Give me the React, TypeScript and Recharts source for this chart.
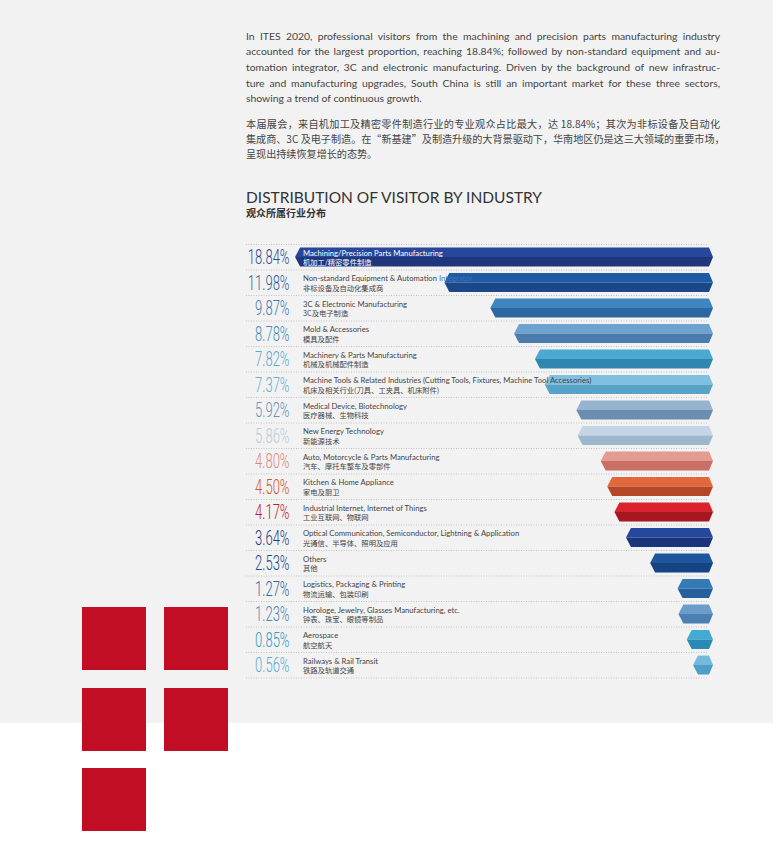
import React from "react";
import { BarChart, Bar, XAxis, YAxis, LabelList } from "recharts";

const values = [18.84, 11.98, 9.87, 8.78, 7.82, 7.37, 5.92, 5.86, 4.8, 4.5, 4.17, 3.64, 2.53, 1.27, 1.23, 0.85, 0.56];

const namesEn = [
  "Machining/Precision Parts Manufacturing",
  "Non-standard Equipment & Automation Integrator",
  "3C & Electronic Manufacturing",
  "Mold & Accessories",
  "Machinery & Parts Manufacturing",
  "Machine Tools & Related Industries (Cutting Tools, Fixtures, Machine Tool Accessories)",
  "Medical Device, Biotechnology",
  "New Energy Technology",
  "Auto, Motorcycle & Parts Manufacturing",
  "Kitchen & Home Appliance",
  "Industrial Internet, Internet of Things",
  "Optical Communication, Semiconductor, Lightning & Application",
  "Others",
  "Logistics, Packaging & Printing",
  "Horologe, Jewelry, Glasses Manufacturing, etc.",
  "Aerospace",
  "Railways & Rail Transit",
];

const namesZh = [
  "机加工/精密零件制造",
  "非标设备及自动化集成商",
  "3C及电子制造",
  "模具及配件",
  "机械及机械配件制造",
  "机床及相关行业(刀具、工夹具、机床附件)",
  "医疗器械、生物科技",
  "新能源技术",
  "汽车、摩托车整车及零部件",
  "家电及厨卫",
  "工业互联网、物联网",
  "光通信、半导体、照明及应用",
  "其他",
  "物流运输、包装印刷",
  "钟表、珠宝、眼镜等制品",
  "航空航天",
  "铁路及轨道交通",
];

const barTopColors = ["#29479a", "#1f5aa5", "#3f86c1", "#6ea3cf", "#4aaad2", "#7fbfe0", "#97b4cf", "#c4d6e6", "#e49b92", "#e2683c", "#d9242f", "#25479c", "#1f579f", "#3679b7", "#6b9dcc", "#43aad3", "#74b9dd"];
const barBottomColors = ["#1f367c", "#1b4688", "#2d67a2", "#4b7cad", "#2f87b0", "#57a2c8", "#6b8eb0", "#9db7cf", "#c96f65", "#b64726", "#a7171f", "#1b357c", "#164383", "#25609e", "#4c7fb2", "#2a8ab4", "#4f9ec9"];
const pctColors = ["#2b4a91", "#2c5ea3", "#3a7ab6", "#3f8fb5", "#55acd0", "#6aaed3", "#6a90b5", "#b9cadb", "#e0867b", "#d3552f", "#bf1e2d", "#1f3b86", "#234c8c", "#2f6aa8", "#4f86bc", "#2e9cc6", "#5cabd3"];

const paragraphEn = [
  "In ITES 2020, professional visitors from the machining and precision parts manufacturing industry",
  "accounted for the largest proportion, reaching 18.84%; followed by non-standard equipment and au-",
  "tomation integrator, 3C and electronic manufacturing. Driven by the background of new infrastruc-",
  "ture and manufacturing upgrades, South China is still an important market for these three sectors,",
  "showing a trend of continuous growth.",
];
const paragraphZh = [
  "本届展会，来自机加工及精密零件制造行业的专业观众占比最大，达 18.84%；其次为非标设备及自动化",
  "集成商、3C 及电子制造。在“新基建”及制造升级的大背景驱动下，华南地区仍是这三大领域的重要市场，",
  "呈现出持续恢复增长的态势。",
];
const titleEn = "DISTRIBUTION OF VISITOR BY INDUSTRY";
const titleZh = "观众所属行业分布";

const data = values.map((v, i) => ({
  value: v,
  pct: v.toFixed(2) + "%",
  en: namesEn[i],
  zh: namesZh[i],
  top: barTopColors[i],
  bottom: barBottomColors[i],
}));

// layout
const CHART_W = 780;
const CHART_H = 700;
const PLOT_TOP = 244.5;
const ROW_H = 25.5;
const PLOT_BOTTOM = PLOT_TOP + ROW_H * values.length;
const PLOT_RIGHT = 713;
const PLOT_LEFT = 277.6;
const CAP = 7.8;
const LINE_X1 = 246;
const LINE_X2 = 707;
const PCT_X = 289.5;
const NAME_X = 303;

function ChevronBar(props: any) {
  const { x, y, width, height, payload } = props;
  if (x == null || width == null) return null;
  const right = Math.max(x, x + width);
  const left = Math.min(x, x + width) - CAP;
  const mid = y + height / 2;
  const top = y;
  const bot = y + height;
  const dl = 5;
  const dr = 4;
  return (
    <g>
      <polygon points={`${left},${mid} ${left + dl},${top} ${right - dr},${top} ${right},${mid}`} fill={payload.top} />
      <polygon points={`${left},${mid} ${right},${mid} ${right - dr},${bot} ${left + dl},${bot}`} fill={payload.bottom} />
    </g>
  );
}

function PctTick(props: any) {
  const { y, index, payload } = props;
  const half = ROW_H / 2;
  return (
    <g>
      {index === 0 && (
        <line x1={LINE_X1} x2={LINE_X2} y1={y - half} y2={y - half} stroke="#c4c4c4" strokeWidth={1} strokeDasharray="1 1.5" />
      )}
      <line x1={LINE_X1} x2={LINE_X2} y1={y + half} y2={y + half} stroke="#c4c4c4" strokeWidth={1} strokeDasharray="1 1.5" />
      <text
        transform={`translate(${PCT_X},${y + 7}) scale(0.62,1)`}
        textAnchor="end"
        fontFamily="Roboto"
        fontWeight={300}
        fontSize={21}
        fill={pctColors[index]}
      >
        {payload.value}
      </text>
    </g>
  );
}

function NameLabel(props: any) {
  const { y, height, index } = props;
  if (y == null) return null;
  const mid = y + height / 2;
  const en = namesEn[index];
  const fill = index === 0 ? "#ffffff" : "#444444";
  let enNode: React.ReactNode = en;
  if (index === 1) {
    const cut = en.lastIndexOf(" ");
    enNode = (
      <>
        <tspan>{en.slice(0, cut)}</tspan>
        <tspan fill="#3f72b4">{en.slice(cut)}</tspan>
      </>
    );
  }
  return (
    <g>
      <text x={NAME_X} y={mid - 1.5} fontFamily="Lato" fontSize={7.7} fill={fill}>
        {enNode}
      </text>
      <text x={NAME_X} y={mid + 8} fontFamily="'Noto Sans CJK SC'" fontSize={7.3} fill={fill}>
        {namesZh[index]}
      </text>
    </g>
  );
}

const squareStyle = (left: number, top: number): React.CSSProperties => ({
  position: "absolute",
  left,
  top,
  width: 64,
  height: 63,
  background: "#c20e24",
});

export default function App() {
  return (
    <div
      style={{
        position: "absolute",
        left: 0,
        top: 0,
        width: 780,
        height: 845,
        background: "#ffffff",
        overflow: "hidden",
      }}
    >
      <div style={{ position: "absolute", left: 0, top: 0, width: 773, height: 723, background: "#f2f2f2" }} />

      <div style={{ position: "absolute", left: 246, top: 28.9, width: 474, fontFamily: "Lato", fontSize: 10.4, color: "#444", lineHeight: "15.6px" }}>
        {paragraphEn.map((l, i) => (
          <div
            key={i}
            style={{
              height: 15.6,
              textAlign: "justify",
              textAlignLast: i === paragraphEn.length - 1 ? "left" : "justify",
              whiteSpace: "nowrap",
            }}
          >
            {l}
          </div>
        ))}
      </div>

      <div style={{ position: "absolute", left: 246, top: 115.8, width: 474, fontFamily: "'Noto Sans CJK SC'", fontSize: 10.1, color: "#444", lineHeight: "15px" }}>
        {paragraphZh.map((l, i) => (
          <div
            key={i}
            style={{
              height: 15,
              textAlign: "justify",
              textAlignLast: i === paragraphZh.length - 1 ? "left" : "justify",
              whiteSpace: "nowrap",
            }}
          >
            {l}
          </div>
        ))}
      </div>

      <div style={{ position: "absolute", left: 246, top: 188.3, fontFamily: "Lato", fontSize: 15.5, lineHeight: "18px", color: "#333", whiteSpace: "nowrap" }}>
        {titleEn}
      </div>
      <div style={{ position: "absolute", left: 246, top: 207.3, fontFamily: "'Noto Sans CJK SC'", fontWeight: 600, fontSize: 10, lineHeight: "12px", color: "#333", whiteSpace: "nowrap" }}>
        {titleZh}
      </div>

      <div style={{ position: "absolute", left: 0, top: 0 }}>
        <BarChart
          width={CHART_W}
          height={CHART_H}
          data={data}
          layout="vertical"
          margin={{ top: PLOT_TOP, bottom: CHART_H - PLOT_BOTTOM, left: 0, right: CHART_W - PLOT_RIGHT }}
        >
          <XAxis type="number" domain={[0, 20]} reversed hide />
          <YAxis
            type="category"
            dataKey="pct"
            width={PLOT_LEFT}
            axisLine={false}
            tickLine={false}
            interval={0}
            tick={<PctTick />}
          />
          <Bar dataKey="value" barSize={19} shape={<ChevronBar />} isAnimationActive={false}>
            <LabelList dataKey="en" content={<NameLabel />} />
          </Bar>
        </BarChart>
      </div>

      <div style={squareStyle(82, 607)} />
      <div style={squareStyle(164, 607)} />
      <div style={squareStyle(82, 688)} />
      <div style={squareStyle(164, 688)} />
      <div style={squareStyle(82, 768)} />
    </div>
  );
}
